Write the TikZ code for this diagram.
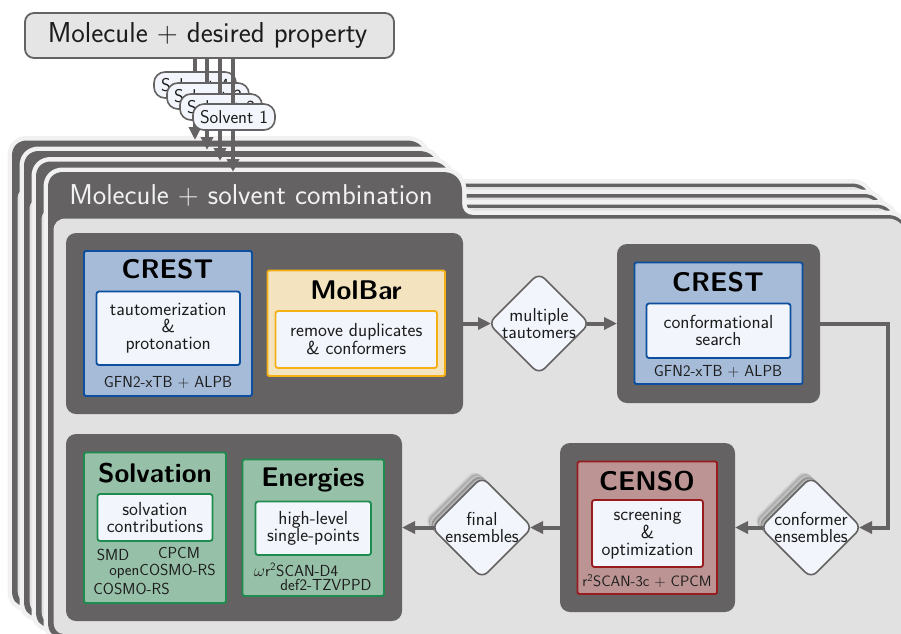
\documentclass[tikz,border=0pt]{standalone}
\usepackage{fontspec}
\usetikzlibrary{arrows.meta,shapes.geometric}
\renewcommand{\familydefault}{\sfdefault}
\definecolor{dk}{HTML}{646262}
\definecolor{sheetgray}{HTML}{E1E1E1}
\definecolor{halo}{HTML}{F1F1F1}
\definecolor{paper}{HTML}{F2F6FC}
\definecolor{bluef}{HTML}{A6BBD7}
\definecolor{blued}{HTML}{0B4F9E}
\definecolor{yelf}{HTML}{F3E3BE}
\definecolor{yeld}{HTML}{F5B014}
\definecolor{grnf}{HTML}{97C0A8}
\definecolor{grnd}{HTML}{1E8C4E}
\definecolor{redf}{HTML}{BD9494}
\definecolor{redd}{HTML}{981C1E}
\definecolor{txt}{HTML}{1C1C1C}
\newcommand{\boxat}[7]{%
  \pgfmathsetmacro\cxx{(#3+#5)/2}\pgfmathsetmacro\cyy{(#4+#6)/2}%
  \pgfmathsetmacro\ww{#5-#3}\pgfmathsetmacro\hh{#6-#4}%
  \node[#2,minimum width=\ww pt,minimum height=\hh pt,inner sep=0pt,outer sep=0pt] (#1) at (\cxx,\cyy) {#7};}
\newcommand{\sheetlayer}[2]{%
  \begin{scope}[shift={(#1,#2)}]
    \path[draw=halo,line width=9pt,line join=round] (48,622) .. controls (48,631) and (52,637) .. (60,637) -- (906,637) -- (906,232) .. controls (906,222) and (898,215) .. (888,215) -- (473,215) .. controls (466,215) and (462,210) .. (462,203) -- (462,191) .. controls (462,180) and (455,172) .. (443,172) -- (63,172) .. controls (54,172) and (48,178) .. (48,187) -- cycle;
    \path[fill=dk] (48,622) .. controls (48,631) and (52,637) .. (60,637) -- (906,637) -- (906,232) .. controls (906,222) and (898,215) .. (888,215) -- (473,215) .. controls (466,215) and (462,210) .. (462,203) -- (462,191) .. controls (462,180) and (455,172) .. (443,172) -- (63,172) .. controls (54,172) and (48,178) .. (48,187) -- cycle;
    \path[fill=sheetgray] (53.5,620) .. controls (53.5,629) and (57,634) .. (64,634) -- (906,634) -- (906,234) .. controls (904,224) and (896,218.5) .. (888,218.5) -- (66,218.5) .. controls (58,218.5) and (53.5,223) .. (53.5,231) -- cycle;
  \end{scope}}
\tikzset{
  x=1pt,y=-1pt,
  conn/.style={draw=dk,line width=4pt},
  arrowed/.style={conn,-{Triangle[length=13pt,width=12pt]}},
  panel/.style={fill=dk,rounded corners=10pt},
  toolbox/.style={draw=#1,line width=1.8pt,rounded corners=1.5pt},
  innerbox/.style={fill=paper,draw=#1,line width=1.8pt,rounded corners=2.5pt,align=center,text=txt,font=\fontsize{18.9}{17}\selectfont},
  titletxt/.style={font=\fontsize{27}{30}\selectfont\bfseries,text=black,inner sep=0pt},
  subtxt/.style={font=\fontsize{16}{17}\selectfont,text=txt,inner sep=0pt},
  pill/.style={fill=paper,draw=dk,line width=1.6pt,rounded corners=11pt,font=\fontsize{18.5}{18}\selectfont,text=txt},
  dia/.style={diamond,aspect=1,draw=dk,fill=paper,line width=1.6pt,rounded corners=8pt,minimum width=101pt,minimum height=101pt,inner sep=0pt,outer sep=0pt},
  stacklayer/.style={diamond,aspect=1,draw=black!#1,fill=black!#1,line width=1pt,rounded corners=8pt,minimum width=101pt,minimum height=101pt,inner sep=0pt,outer sep=0pt},
  diatxt/.style={align=center,text=txt,font=\fontsize{18.8}{17}\selectfont,inner sep=0pt},
}
\newcommand{\diastack}[3]{%
  \node[stacklayer=20,xshift=-7pt,yshift=7pt] (#1a) at (#2,#3) {};
  \node[stacklayer=32,xshift=-5.6pt,yshift=5.6pt] (#1b) at (#2,#3) {};
  \node[stacklayer=24,xshift=-4.2pt,yshift=4.2pt] (#1c) at (#2,#3) {};
  \node[stacklayer=42,xshift=-2.8pt,yshift=2.8pt] (#1e) at (#2,#3) {};
  \node[stacklayer=30,xshift=-1.4pt,yshift=1.4pt] (#1f) at (#2,#3) {};}
\begin{document}
\begin{tikzpicture}
\useasboundingbox (0,0) rectangle (901,633);
\clip (0,0) rectangle (901,633);
\fill[white] (0,0) rectangle (901,633);

% top node
\boxat{top}{fill=black!10,draw=dk,line width=1.8pt,rounded corners=9pt,text=txt,font=\fontsize{28.8}{30}\selectfont}{25}{13}{394}{58}{\hspace{-4pt}Molecule + desired property}

\coordinate (e1) at (195,140);
\coordinate (e2) at (207,150);
\coordinate (e3) at (220,161);
\coordinate (e4) at (233,172);

% layer 1
\sheetlayer{-36}{-31.5}
\draw[arrowed] (top.south -| e1) -- (e1);
\boxat{s4}{pill}{154}{72}{236}{98}{Solvent 4}
% layer 2
\sheetlayer{-24}{-21}
\draw[arrowed] (top.south -| e2) -- (e2);
\boxat{s3}{pill}{167}{83}{249}{109}{Solvent 3}
% layer 3
\sheetlayer{-12}{-10.5}
\draw[arrowed] (top.south -| e3) -- (e3);
\boxat{s2}{pill}{180}{94}{262}{120}{Solvent 2}
% layer 4
\sheetlayer{0}{0}
\draw[arrowed] (top.south -| e4) -- (e4);
\boxat{s1}{pill}{193}{104}{275}{130}{Solvent 1}

\node[text=white!95!black,font=\fontsize{28.7}{30}\selectfont,inner sep=0pt] (tabtitle) at (251,195) {Molecule + solvent combination};

% panels
\boxat{p1}{panel}{66}{233}{463}{414}{}
\boxat{p2}{panel}{617}{244}{820}{403}{}
\boxat{p3}{panel}{560}{443}{735}{612}{}
\boxat{p4}{panel}{66}{434}{402}{621}{}

% CREST 1
\boxat{c1}{fill=bluef,toolbox=blued}{84}{251}{252}{396}{}
\node[titletxt] (c1t) at (167.5,269.5) {CREST};
\boxat{c1i}{innerbox=blued}{96.5}{291.5}{240}{365}{tautomerization\\\&\\protonation}
\node[subtxt] (c1s) at (168,382) {GFN2-xTB + ALPB};

% MolBar
\boxat{m}{fill=yelf,toolbox=yeld}{267.5}{270.5}{445}{376}{}
\node[titletxt] (mt) at (356,290) {MolBar};
\boxat{mi}{innerbox=yeld}{275.5}{311}{437}{368}{remove duplicates\\\& conformers}

% CREST 2
\boxat{c2}{fill=bluef,toolbox=blued}{634.5}{262.5}{802.5}{384}{}
\node[titletxt] (c2t) at (718,282) {CREST};
\boxat{c2i}{innerbox=blued}{646.5}{303.5}{790.5}{358}{conformational\\search}
\node[subtxt] (c2s) at (718,371) {GFN2-xTB + ALPB};

% CENSO
\boxat{ce}{fill=redf,toolbox=redd}{577.5}{461.5}{717}{594}{}
\node[titletxt] (cet) at (647,481) {CENSO};
\boxat{cei}{innerbox=redd}{592}{500}{703}{567}{screening\\\&\\optimization}
\node[subtxt,font=\fontsize{15}{17}\selectfont] (ces) at (647,581) {r\textsuperscript{2}SCAN-3c + CPCM};

% Solvation
\boxat{so}{fill=grnf,toolbox=grnd}{84}{452.5}{226}{603}{}
\node[titletxt] (sot) at (155,473) {Solvation};
\boxat{soi}{innerbox=grnd}{97.5}{494}{212.5}{541}{solvation\\contributions}
\node[subtxt] (so1) at (113,555) {SMD};
\node[subtxt] (so2) at (179,553) {CPCM};
\node[subtxt] (so3) at (162.5,571) {openCOSMO-RS};
\node[subtxt] (so4) at (131.5,589) {COSMO-RS};

% Energies
\boxat{en}{fill=grnf,toolbox=grnd}{242.5}{459.5}{384}{596}{}
\node[titletxt] (ent) at (313,480) {Energies};
\boxat{eni}{innerbox=grnd}{255.5}{501.5}{371}{555}{high-level\\single-points}
\node[subtxt] (en1) at (296,570) {$\omega$r\textsuperscript{2}SCAN-D4};
\node[subtxt] (en2) at (326,584.5) {def2-TZVPPD};

% diamonds
\node[dia] (d1) at (539,323.5) {};
\node[diatxt] (d1t) at (539,323.5) {multiple\\tautomers};
\diastack{k2}{811}{527.5}
\node[dia] (d2) at (811,527.5) {};
\node[diatxt] (d2t) at (811,527.5) {conformer\\ensembles};
\diastack{k3}{482}{527.5}
\node[dia] (d3) at (482,527.5) {};
\node[diatxt] (d3t) at (482,527.5) {final\\ensembles};

% connectors
\coordinate (turn) at (888,527.5);
\draw[arrowed,shorten >=-2.5pt] (p1.east) -- (d1.west);
\draw[arrowed,shorten <=-2.5pt] (d1.east) -- (p2.west);
\draw[arrowed,shorten >=-2.5pt] (p2.east) -- (p2.east -| turn) -- (turn) -- (d2.east);
\draw[arrowed,shorten <=-2.5pt] (d2.west) -- (p3.east);
\draw[arrowed,shorten >=-2.5pt] (p3.west) -- (d3.east);
\draw[arrowed,shorten <=-2.5pt] (d3.west) -- (p4.east);
\end{tikzpicture}
\end{document}
